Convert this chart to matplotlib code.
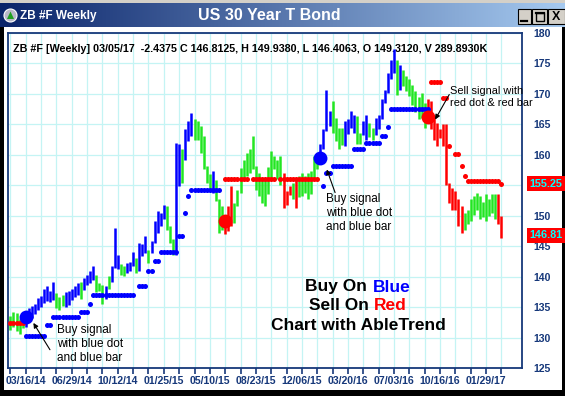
import numpy as np
import matplotlib
matplotlib.use("Agg")
import matplotlib.pyplot as plt
from matplotlib.patches import Rectangle, Circle, Polygon
from matplotlib.colors import LinearSegmentedColormap
from matplotlib.offsetbox import TextArea, HPacker, AnnotationBbox
import matplotlib.transforms as mtransforms

plt.rcParams['font.family'] = ['Liberation Sans', 'DejaVu Sans']

W, H = 565, 396

# ---------------- data (weekly bars, week 0 = 03/16/14) ----------------
FIRST_WEEK = -5
HIGH = [
    133.6, 134.2, 134.0, 133.0, 133.8, 134.4, 134.8, 135.2, 135.5, 136.5,
    136.8, 137.9, 138.4, 137.6, 139.1, 137.3, 136.6, 137.0, 137.4, 137.6,
    138.0, 138.4, 138.9, 139.2, 139.8, 140.2, 141.0, 141.8, 140.2, 139.0,
    138.6, 138.4, 140.1, 141.7, 148.0, 143.6, 142.0, 141.7, 142.2, 142.4,
    144.0, 143.1, 145.5, 145.3, 146.6, 144.4, 145.8, 149.1, 150.7, 150.5,
    151.8, 151.6, 148.3, 146.1, 162.0, 161.7, 160.9, 164.2, 165.5, 166.9,
    165.8, 165.5, 164.7, 163.1, 158.1, 156.8, 157.3, 155.8, 152.7, 151.6,
    149.9, 151.6, 154.9, 152.1, 154.3, 157.9, 159.2, 160.3, 160.9, 163.1,
    158.1, 157.0, 156.2, 155.9, 158.0, 160.6, 159.8, 159.2, 159.8, 157.0,
    154.0, 154.9, 155.4, 155.9, 156.5, 157.0, 156.6, 157.0, 157.4, 159.8,
    160.3, 161.7, 164.2, 170.7, 167.2, 168.8, 166.0, 164.4, 164.4, 165.5,
    165.8, 167.2, 166.6, 166.3, 163.6, 165.5, 166.6, 165.3, 164.4, 166.0,
    166.6, 169.1, 170.7, 173.5, 175.6, 177.3, 175.6, 174.8, 174.0, 173.0,
    172.4, 171.5, 170.5, 169.5, 170.2, 168.5, 169.1, 168.8, 166.6, 165.2,
    164.2, 165.0, 165.0, 155.4, 154.5, 154.0, 152.7, 151.6, 150.5, 151.0,
    152.7, 153.2, 153.8, 153.2, 152.3, 153.5, 152.7, 153.5, 153.5, 153.5,
    149.9,
]
LOW = [
    131.2, 131.8, 131.0, 130.5, 131.5, 131.8, 132.8, 133.2, 133.8, 134.6,
    135.0, 135.6, 136.0, 135.8, 136.2, 134.8, 134.6, 135.2, 135.0, 135.4,
    136.2, 136.6, 137.0, 136.4, 137.8, 138.6, 139.0, 139.5, 137.4, 137.6,
    135.5, 136.4, 137.9, 139.2, 141.4, 141.2, 140.3, 140.1, 140.6, 141.0,
    141.7, 140.6, 140.9, 143.4, 143.8, 142.3, 143.9, 145.5, 147.2, 148.3,
    149.4, 147.7, 145.5, 143.6, 143.6, 154.8, 155.4, 159.2, 162.2, 163.1,
    162.5, 162.5, 160.3, 157.6, 155.4, 154.0, 153.8, 152.4, 147.2, 147.7,
    147.0, 147.5, 148.3, 148.8, 151.6, 153.8, 156.0, 156.5, 157.0, 157.6,
    154.3, 153.2, 152.1, 151.6, 153.5, 156.0, 157.6, 156.0, 155.0, 151.3,
    151.8, 153.4, 152.7, 151.3, 153.0, 153.2, 153.8, 152.8, 153.6, 156.0,
    157.6, 159.4, 160.9, 163.9, 164.7, 163.6, 162.2, 160.9, 161.6, 161.4,
    163.4, 164.4, 163.6, 161.7, 161.7, 163.3, 162.5, 163.0, 162.5, 163.2,
    164.2, 165.8, 168.5, 170.2, 172.4, 173.5, 169.9, 170.7, 171.3, 170.5,
    169.6, 168.2, 167.0, 165.8, 166.0, 164.4, 165.8, 164.2, 162.5, 161.4,
    162.8, 161.4, 155.1, 152.1, 151.0, 151.0, 148.3, 147.2, 147.7, 148.6,
    149.1, 150.2, 151.0, 149.4, 149.8, 149.1, 150.0, 150.5, 149.4, 148.6,
    146.4,
]
# trend colour of each bar: b = up (blue), g = neutral (green), r = down (red)
TREND = ("ggggg bbbbbbbbbb ggg bbbbb g bbbb ggg b g bbb gg bbb g bbb g bbbbb ggg "
         "bb g bbb gggggg b ggg rrr gggggggggggggggg rrr g r ggggggg bbbb gggg bbbb "
         "gg bb gg bbbbbbb g b gggggggg rrrrrrrrrrrr ggggggggggg rr").replace(" ", "")

# AbleTrend stop dots: (first week, last week, level)
BLUE_STOP_STEPS = [
    (0, 6, 130.2), (7, 8, 132.0), (9, 17, 133.3), (18, 20, 134.2), (21, 21, 135.5),
    (22, 35, 137.0), (37, 39, 138.4), (40, 41, 140.9), (42, 43, 142.5), (44, 49, 144.0),
    (50, 51, 146.6), (52, 52, 150.4), (53, 53, 153.3), (54, 63, 154.2),
    (97, 97, 154.8), (98, 99, 157.0), (100, 106, 158.2), (107, 110, 160.9),
    (111, 115, 162.0), (116, 117, 163.1), (118, 118, 164.6), (119, 131, 167.6),
]
RED_STOP_STEPS = [
    (-5, -1, 132.4), (65, 72, 156.1), (74, 81, 156.1), (83, 95, 156.1),
    (132, 135, 172.0), (136, 137, 169.3), (138, 138, 161.5), (140, 141, 160.2),
    (142, 142, 158.1), (143, 143, 156.5), (144, 154, 155.7), (155, 155, 155.25),
]
# big signal dots: (week, price, kind)
SIGNALS = [(0, 133.3, 'b'), (65, 149.1, 'r'), (96, 159.4, 'b'), (131, 166.2, 'r')]

TICK_WEEKS = [0, 15, 30, 45, 60, 75, 90, 105, 120, 135, 150]
TICK_LABELS = ["03/16/14", "06/29/14", "10/12/14", "01/25/15", "05/10/15", "08/23/15",
               "12/06/15", "03/20/16", "07/03/16", "10/16/16", "01/29/17"]
Y_TICKS = [125, 130, 135, 140, 145, 150, 155, 160, 165, 170, 175, 180]
LAST_PRICES = [155.25, 146.81]
LAST_LABELS = ["155.25", "146.81"]
HEADER = "ZB #F [Weekly] 03/05/17  -2.4375 C 146.8125, H 149.9380, L 146.4063, O 149.3120, V 289.8930K"

# ---------------- styling ----------------
COL = {'b': '#0000ff', 'g': '#22e622', 'r': '#ff0000'}
NAVY = '#16387a'
GRID = '#c4f4f4'

weeks = np.arange(FIRST_WEEK, FIRST_WEEK + len(HIGH))
assert len(HIGH) == len(LOW) == len(TREND)


def steps_to_series(steps):
    s = np.full(len(weeks), np.nan)
    for a, b, v in steps:
        s[(weeks >= a) & (weeks <= b)] = v
    return s


blue_stop = steps_to_series(BLUE_STOP_STEPS)
red_stop = steps_to_series(RED_STOP_STEPS)

fig = plt.figure(figsize=(W / 100, H / 100), dpi=100)
fig.patch.set_facecolor('white')


def fx(x):
    return x / W


def fy(y):
    return 1 - y / H


# window frame
fig.add_artist(Rectangle((0, fy(3)), 1, 3 / H, transform=fig.transFigure,
                         fc='#d4d0c8', ec='none', zorder=0))
fig.add_artist(Rectangle((0, 0), 4 / W, fy(27), transform=fig.transFigure,
                         fc='black', ec='none', zorder=0))
fig.add_artist(Rectangle((fx(562), 0), 3 / W, fy(27), transform=fig.transFigure,
                         fc='black', ec='none', zorder=0))
fig.add_artist(Rectangle((0, 0), 1, 6 / H, transform=fig.transFigure,
                         fc='black', ec='none', zorder=0))

# title bar
tb = fig.add_axes([0, fy(27), 1, 24 / H])
cmap = LinearSegmentedColormap.from_list('tb', ['#0a246a', '#a6caf0'])
tb.imshow(np.linspace(0, 1, 256)[None, :], cmap=cmap, aspect='auto', extent=[0, W, 27, 3])
tb.set_xlim(0, W)
tb.set_ylim(27, 3)
tb.axis('off')
tb.add_patch(Circle((10.5, 15.5), 6.5, fc='#b8b8c8', ec='white', lw=0.8))
tb.add_patch(Polygon([(7, 19), (10.5, 11.5), (14, 19)], closed=True, fc='#20a020', ec='none'))
tb.text(20, 15.5, "ZB #F Weekly", color='white', fontweight='bold', fontsize=8.5, va='center')
tb.text(269, 15.5, "US 30 Year T Bond", color='white', fontweight='bold', fontsize=11.5,
        va='center', ha='center')
for (bx, bw) in [(518, 13), (532, 15), (548, 17)]:
    tb.add_patch(Rectangle((bx, 9), bw, 15, fc='#d4d0c8', ec='black', lw=0.8))
tb.plot([521, 527], [20.5, 20.5], color='black', lw=1.6)
tb.add_patch(Rectangle((535.5, 12.5), 8, 8, fc='none', ec='black', lw=1.0))
tb.plot([535.5, 543.5], [13, 13], color='black', lw=1.6)
tb.text(556, 16.5, "X", fontsize=9, fontweight='bold', ha='center', va='center')

# main chart
ax = fig.add_axes([fx(8), 28 / H, 514 / W, 335 / H])
ax.set_facecolor('white')
ax.set_xlim(-5.77, 161.7)
ax.set_ylim(125, 180)
ax.set_axisbelow(True)

ax.set_xticks(np.arange(-5, 156, 5), minor=True)
ax.set_xticks(TICK_WEEKS)
ax.set_xticklabels(TICK_LABELS)
ax.set_yticks(Y_TICKS)
ax.yaxis.tick_right()
ax.grid(True, which='both', axis='x', color=GRID, lw=0.9)
ax.grid(True, which='major', axis='y', color=GRID, lw=0.9)
ax.tick_params(axis='x', which='both', direction='out', length=4, width=1.2, color=NAVY,
               labelsize=7.6, labelcolor=NAVY, pad=2)
ax.tick_params(axis='y', which='both', length=0, pad=8, labelsize=7.6, labelcolor=NAVY)
for lbl in ax.get_xticklabels() + ax.get_yticklabels():
    lbl.set_fontweight('bold')
for sp in ax.spines.values():
    sp.set_color(NAVY)
    sp.set_linewidth(1.3)

ax.text(0.009, 0.953, HEADER, transform=ax.transAxes, fontsize=7.75, fontweight='bold',
        va='center', ha='left', color='black', zorder=2.6)

ax.vlines(weeks, LOW, HIGH, colors=[COL[c] for c in TREND], lw=1.8, zorder=3)
ax.plot(weeks, blue_stop, 'o', ms=3.6, color=COL['b'], mec='none', zorder=4)
ax.plot(weeks, red_stop, 'o', ms=3.6, color=COL['r'], mec='none', zorder=4)
for w, p, k in SIGNALS:
    ax.plot(w, p, 'o', ms=10, color=COL[k], mec='none', zorder=5)

# annotations
arrow = dict(arrowstyle='-|>', color='black', lw=0.8, mutation_scale=7, shrinkA=0, shrinkB=0)
ax.annotate('', xy=(2.5, 132.4), xytext=(7.9, 128.0), arrowprops=arrow, zorder=6)
ax.annotate('', xy=(98.1, 157.6), xytext=(100.8, 153.8), arrowprops=arrow, zorder=6)
ax.annotate('', xy=(133.4, 165.8), xytext=(138.0, 169.9), arrowprops=arrow, zorder=6)
ax.text(10.2, 132.2, "Buy signal\nwith blue dot\nand blue bar", fontsize=8.5, va='top',
        ha='left', zorder=6)
ax.text(97.8, 153.7, "Buy signal\nwith blue dot\nand blue bar", fontsize=8.5, va='top',
        ha='left', zorder=6)
ax.text(138.3, 171.3, "Sell signal with\nred dot & red bar", fontsize=7.9, va='top',
        ha='left', zorder=6, clip_on=False, linespacing=1.3)


def colored_line(parts, y_pix):
    areas = [TextArea(t, textprops=dict(color=c, fontsize=12.5, fontweight='bold'))
             for t, c in parts]
    box = HPacker(children=areas, align='baseline', pad=0, sep=4)
    ab = AnnotationBbox(box, (358, H - y_pix), xycoords='figure pixels', frameon=False,
                        box_alignment=(0.5, 0.5), pad=0)
    fig.add_artist(ab)


colored_line([("Buy On", 'black'), ("Blue", COL['b'])], 287)
colored_line([("Sell On", 'black'), ("Red", COL['r'])], 306)
colored_line([("Chart with AbleTrend", 'black')], 325)

# last-price boxes on the right scale
trans = mtransforms.blended_transform_factory(fig.transFigure, ax.transData)
for p, lab in zip(LAST_PRICES, LAST_LABELS):
    ax.add_patch(Rectangle((fx(527), p - 1.25), 1 - fx(527), 2.5, transform=trans,
                           fc='#ff0000', ec='none', zorder=7, clip_on=False))
    ax.text(fx(529), p, lab, transform=trans, color='#00ffff', fontsize=7.8,
            fontweight='bold', va='center', ha='left', zorder=8, clip_on=False)

fig.savefig('out.png', dpi=100)
